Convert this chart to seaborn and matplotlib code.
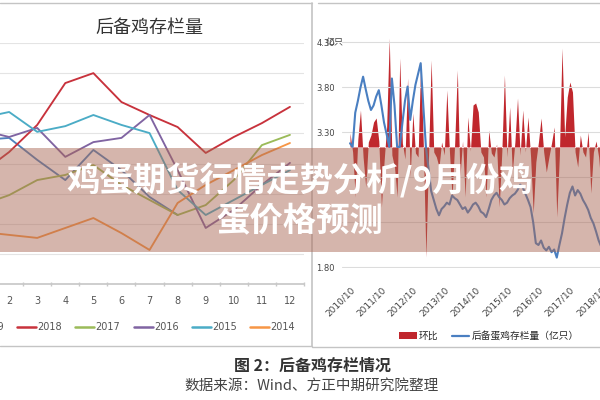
import numpy as np
import pandas as pd
import matplotlib
matplotlib.use('Agg')
import matplotlib.pyplot as plt
import seaborn as sns
from matplotlib.patches import Rectangle, Patch
from matplotlib.lines import Line2D

# ---------------- data ----------------
months = list(range(1, 13))
years = ['2019', '2018', '2017', '2016', '2015', '2014']
y2019 = [4.78, 4.85, 4.12, 3.45, 4.45, 3.78, 2.89, 2.29]
y2018 = [3.68, 4.38, 5.28, 6.67, 7.00, 6.04, 5.61, 5.21, 4.35, 4.88, 5.34, 5.88]
y2017 = [2.62, 2.95, 3.45, 3.62, 3.95, 3.29, 2.79, 2.29, 2.62, 3.45, 4.61, 4.95]
y2016 = [5.11, 4.88, 5.18, 4.22, 4.71, 4.85, 5.61, 3.78, 1.86, 2.46, 3.29, 4.02]
y2015 = [5.51, 5.71, 5.05, 5.24, 5.61, 5.28, 5.01, 3.12, 2.29, 2.79, 3.29, 3.78]
y2014 = [1.73, 1.63, 1.53, 1.86, 2.19, 1.69, 1.13, 2.69, 3.29, 3.78, 4.28, 4.68]
year_colors = ['#4f81bd', '#c8323c', '#9bbb59', '#8064a2', '#4bacc6', '#f79646']

year_ticks = ['2010/10', '2011/10', '2012/10', '2013/10', '2014/10',
              '2015/10', '2016/10', '2017/10', '2018/10']
stock = [3.18, 3.14, 3.52, 3.65, 3.80, 3.92, 3.78, 3.65, 3.55, 3.60,
         3.70, 3.77, 3.60, 3.41, 3.28, 3.14, 3.90, 3.60, 3.14, 3.14,
         3.40, 3.65, 3.81, 3.44, 3.65, 3.83, 3.95, 4.07, 3.60, 3.14,
         2.90, 2.65, 2.55, 2.45, 2.38, 2.45, 2.48, 2.52, 2.50, 2.60,
         2.57, 2.55, 2.50, 2.45, 2.47, 2.41, 2.45, 2.50, 2.52, 2.48,
         2.42, 2.40, 2.36, 2.45, 2.55, 2.60, 2.63, 2.58, 2.55, 2.50,
         2.52, 2.57, 2.60, 2.62, 2.66, 2.72, 2.69, 2.62, 2.55, 2.47,
         2.30, 2.07, 2.05, 2.10, 2.02, 1.99, 2.03, 1.97, 2.00, 1.91,
         2.05, 2.18, 2.35, 2.50, 2.63, 2.70, 2.60, 2.66, 2.62, 2.55,
         2.50, 2.44, 2.35, 2.29, 2.20, 2.10, 2.03, 1.98, 2.05, 2.10]
mom = [1.4, -0.5, -5.0, 0.8, 3.7, -1.0, -4.0, 0.5, 1.2, 2.5,
       2.9, 0.6, -6.0, -1.5, 2.0, 10.9, -0.8, -2.0, -5.0, 8.9,
       0.4, -1.2, 6.9, -3.0, 3.4, -0.6, -1.0, 8.5, 0.3, -11.0,
       -1.0, 8.7, -0.5, -1.0, -2.0, 0.5, -0.8, 5.7, -0.5, -5.0,
       0.4, 7.7, -3.0, 0.6, -5.0, 3.0, -0.4, 4.2, 4.4, 3.5,
       -0.5, -1.0, -5.0, 1.7, -0.6, -1.0, 0.3, -6.0, -0.5, 7.2,
       -1.0, 4.0, -2.5, 0.5, 4.9, -0.8, 3.7, -0.5, 3.0, -1.0,
       -6.6, -1.5, 0.5, 2.9, -0.5, -2.5, -1.0, 0.4, 2.0, -7.0,
       -0.8, 9.9, 1.0, 5.0, 6.5, 5.5, -0.5, -2.0, 1.2, -0.5,
       -1.0, 1.5, -4.6, -0.5, 0.6, -1.0, -4.3, 0.5, 1.0, -1.5]

title_left = '后备鸡存栏量'
overlay_l1 = '鸡蛋期货行情走势分析/9月份鸡'
overlay_l2 = '蛋价格预测'
legend_right = ['环比', '后备蛋鸡存栏量（亿只）']
caption1 = '图 2：后备鸡存栏情况'
caption2 = '数据来源：Wind、方正中期研究院整理'

# ---------------- style ----------------
sns.set_theme(style='white')
plt.rcParams['font.family'] = ['DejaVu Sans', 'Noto Sans CJK SC']
CJK = ['Noto Sans CJK SC', 'DejaVu Sans']

W, H = 600, 400
fig = plt.figure(figsize=(6, 4), dpi=100)

def fx(px):
    return px / W

def fy(py):
    return 1 - py / H

# ---------------- left chart ----------------
series = [y2019, y2018, y2017, y2016, y2015, y2014]
rows = []
for yr, vals in zip(years, series):
    for m, v in zip(months, vals):
        rows.append({'month': m, 'value': v, 'year': yr})
df = pd.DataFrame(rows)

ax1 = fig.add_axes([fx(-33), fy(284), fx(337), (284 - 43) / H])
sns.lineplot(data=df, x='month', y='value', hue='year', hue_order=years,
             palette=dict(zip(years, year_colors)), linewidth=1.35,
             legend=False, ax=ax1)
ax1.set_xlim(0.5, 12.5)
ax1.set_ylim(0, 8)
ax1.set_yticks(range(0, 9))
ax1.set_yticklabels([])
ax1.grid(axis='y', color='#e4e4e4', linewidth=0.8)
ax1.grid(axis='x', visible=False)
for s in ['top', 'left', 'right']:
    ax1.spines[s].set_visible(False)
ax1.spines['bottom'].set_color('#c8c8c8')
ax1.set_xticks(months[1:])
ax1.set_xticklabels([str(m) for m in months[1:]], fontsize=7, color='#555555')
ax1.set_xticks(np.arange(1.5, 13, 1), minor=True)
ax1.tick_params(axis='x', which='major', length=0, pad=9)
ax1.tick_params(axis='x', which='minor', length=3, direction='inout',
                color='#c8c8c8', bottom=True)
ax1.tick_params(axis='y', length=0)
ax1.set_xlabel('')
ax1.set_ylabel('')

fig.text(fx(149), fy(28), title_left, ha='center', va='center',
         fontsize=13, family=CJK, color='#333333')

handles = [Line2D([], [], color=c, linewidth=1.8) for c in year_colors]
fig.legend(handles, years, loc='center', bbox_to_anchor=(fx(127), fy(327)),
           ncol=6, frameon=False, fontsize=7, handlelength=1.95,
           handletextpad=0.15, columnspacing=1.35, borderpad=0,
           labelcolor='#555555')

# ---------------- right chart ----------------
idx = np.arange(len(stock))
ax2 = fig.add_axes([fx(342), fy(267.5), fx(270), (267.5 - 35) / H])
ax3 = ax2.twinx()
ax3.set_zorder(ax2.get_zorder() - 1)
ax2.patch.set_visible(False)

ax3.fill_between(idx, 0, mom, color='#c0272d', linewidth=0)
ax3.set_ylim(-12.05, 11.2)
ax3.set_yticks([])
for s in ax3.spines.values():
    s.set_visible(False)

sns.lineplot(x=idx, y=stock, color='#4a7fc1', linewidth=1.5, ax=ax2)
ax2.set_ylim(1.8, 4.383)
ax2.set_xlim(-3.06, 100.1)
yt = [1.8, 2.3, 2.8, 3.3, 3.8, 4.3]
ax2.set_yticks(yt)
# 2.30 and 2.80 are hidden under the banner in the reference
ax2.set_yticklabels(['%.2f' % v if v not in (2.3, 2.8) else '' for v in yt],
                    fontsize=6, color='#444444')
ax2.grid(axis='y', color='#dcdcdc', linewidth=0.8)
ax2.grid(axis='x', visible=False)
for s in ax2.spines.values():
    s.set_visible(False)
ax2.set_xticks(np.arange(0, 12 * len(year_ticks), 12))
ax2.set_xticklabels(year_ticks, fontsize=6.5, color='#444444', rotation=45,
                    ha='right', va='top', rotation_mode='anchor')
ax2.tick_params(axis='x', length=0, pad=13)
ax2.tick_params(axis='y', length=0, pad=5)
ax2.set_xlabel('')
ax2.set_ylabel('')

fig.text(fx(326), fy(42), '亿只', ha='left', va='center', fontsize=6.5,
         family=CJK, color='#444444')

rh = [Patch(facecolor='#c0272d', edgecolor='none'),
      Line2D([], [], color='#4a7fc1', linewidth=1.6)]
fig.legend(rh, legend_right, loc='center',
           bbox_to_anchor=(fx(489), fy(336)), ncol=2, frameon=False,
           handlelength=1.8, handleheight=0.6,
           handletextpad=0.2, columnspacing=1.4, borderpad=0,
           prop={'family': CJK, 'size': 7})

# ---------------- frames ----------------
fc = '#c4c4c4'
fig.add_artist(Line2D([0, fx(312)], [fy(3), fy(3)], color=fc, lw=1,
                      transform=fig.transFigure))
fig.add_artist(Line2D([fx(318), 1], [fy(3), fy(3)], color=fc, lw=1,
                      transform=fig.transFigure))
fig.add_artist(Line2D([fx(312), fx(312)], [fy(3), fy(346)], color=fc, lw=1.2,
                      transform=fig.transFigure))
fig.add_artist(Line2D([0, fx(312)], [fy(346), fy(346)], color=fc, lw=1,
                      transform=fig.transFigure))
fig.add_artist(Line2D([fx(312), 1], [fy(347), fy(347)], color=fc, lw=1,
                      transform=fig.transFigure))

# ---------------- overlay ----------------
fig.add_artist(Rectangle((0, fy(252)), 1, (252 - 148) / H,
                         transform=fig.transFigure,
                         facecolor=(0.66, 0.40, 0.32), alpha=0.48,
                         edgecolor='none', zorder=10))
fig.text(0.5, fy(181), overlay_l1, ha='center', va='center', fontsize=24,
         weight='bold', color='white', family=CJK, zorder=11)
fig.text(0.5, fy(222), overlay_l2, ha='center', va='center', fontsize=24,
         weight='bold', color='white', family=CJK, zorder=11)

# ---------------- caption ----------------
fig.text(fx(313), fy(366), caption1, ha='center', va='center', fontsize=11.5,
         weight='bold', color='#333333', family=CJK)
fig.text(fx(312), fy(386), caption2, ha='center', va='center', fontsize=10.5,
         color='#444444', family=CJK)

fig.savefig('out.png', dpi=100)
